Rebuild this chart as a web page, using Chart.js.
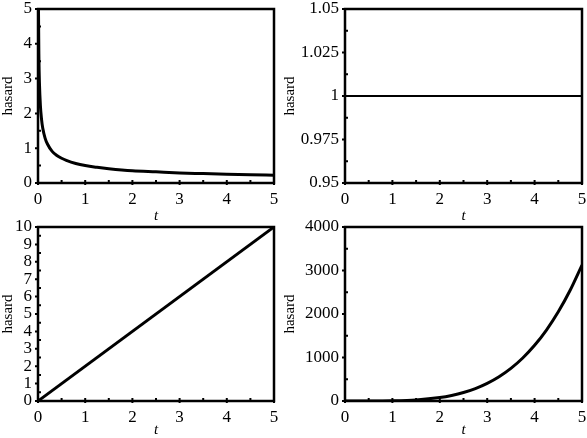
<!DOCTYPE html>
<html>
<head>
<meta charset="utf-8">
<script src="https://cdn.jsdelivr.net/npm/chart.js@4.4.0/dist/chart.umd.min.js"></script>
<style>
  body { margin: 0; background: #fff; }
  #wrap { position: relative; width: 587px; height: 438px; overflow: hidden; }
  canvas { position: absolute; }
</style>
</head>
<body>
<div id="wrap">
  <canvas id="c1" width="290" height="226" style="left:0px;top:0px"></canvas>
  <canvas id="c2" width="307" height="226" style="left:280px;top:0px"></canvas>
  <canvas id="c3" width="290" height="219" style="left:0px;top:219px"></canvas>
  <canvas id="c4" width="307" height="219" style="left:280px;top:219px"></canvas>
</div>
<script>
// hazard values
const tDec = [0.005, 0.01, 0.02, 0.03, 0.05, 0.075, 0.1, 0.15, 0.2, 0.3, 0.4, 0.5, 0.6, 0.8, 1, 1.25, 1.5, 2, 2.5, 3, 3.5, 4, 4.5, 5];
const hDec = [7.07, 5.0, 3.54, 2.89, 2.24, 1.83, 1.58, 1.29, 1.12, 0.91, 0.79, 0.71, 0.65, 0.56, 0.5, 0.45, 0.41, 0.35, 0.32, 0.29, 0.27, 0.25, 0.24, 0.22];

const tConst = [0, 5];
const hConst = [1, 1];

const tLin = [0, 5];
const hLin = [0, 10];

const tInc = [0, 0.5, 1, 1.5, 2, 2.25, 2.5, 2.75, 3, 3.25, 3.5, 3.75, 4, 4.25, 4.5, 4.75, 5];
const hInc = [0, 0.3, 5, 25, 80, 128, 195, 286, 405, 558, 750, 989, 1280, 1631, 2050, 2545, 3125];

// axis ranges (min, max, step)
const xRange = [0, 5, 1];
const yRangeDec = [0, 5, 1];
const yRangeConst = [0.95, 1.05, 0.025];
const yRangeLin = [0, 10, 1];
const yRangeInc = [0, 4000, 1000];

const serif = 'Liberation Serif, Times New Roman, serif';

//Junta os dois vetores em pontos {x, y}
function toPoints(xs, ys) {
    let pts = [];
    for (let i = 0; i < xs.length; i++) {
        pts.push({ x: xs[i], y: ys[i] });
    }
    return pts;
}

//Desenha a moldura e os tracinhos dos eixos
const framePlugin = {
    id: 'frame',
    afterDraw(chart) {
        const ctx = chart.ctx;
        const a = chart.chartArea;
        const xs = chart.scales.x;
        const ys = chart.scales.y;
        ctx.save();
        ctx.strokeStyle = '#000';
        ctx.lineWidth = 2.5;
        ctx.strokeRect(a.left, a.top, a.right - a.left, a.bottom - a.top);
        ctx.lineWidth = 2;
        ctx.beginPath();
        const xr = chart.options.xr, yr = chart.options.yr;
        for (let k = 0; k <= Math.round((xr[1] - xr[0]) / xr[2]) * 2; k++) {
            const px = xs.getPixelForValue(xr[0] + k * xr[2] / 2);
            ctx.moveTo(px, a.bottom + (k % 2 === 0 ? 2 : 1));
            ctx.lineTo(px, a.bottom - 3);
        }
        for (let k = 0; k <= Math.round((yr[1] - yr[0]) / yr[2]) * 2; k++) {
            const py = ys.getPixelForValue(yr[0] + k * yr[2] / 2);
            if (k % 2 === 0) {
                ctx.moveTo(a.left - 3, py);
                ctx.lineTo(a.left + 1, py);
            } else {
                ctx.moveTo(a.left - 1, py);
                ctx.lineTo(a.left + 3, py);
            }
        }
        ctx.stroke();
        ctx.restore();
    }
};

//Cria um painel
function createPanel(id, xs, ys, yr, box, width, curve) {
    const ctx = document.getElementById(id).getContext('2d');
    const canvasW = ctx.canvas.width;
    const canvasH = ctx.canvas.height;
    return new Chart(ctx, {
        type: 'line',
        data: {
            datasets: [{
                data: toPoints(xs, ys),
                borderColor: '#000',
                borderWidth: width,
                pointRadius: 0,
                fill: false,
                cubicInterpolationMode: curve ? 'monotone' : 'default'
            }]
        },
        options: {
            xr: xRange,
            yr: yr,
            responsive: false,
            animation: false,
            events: [],
            layout: { padding: { left: 0, top: box.top, right: canvasW - box.right, bottom: 0 } },
            plugins: { legend: { display: false }, tooltip: { enabled: false } },
            scales: {
                x: {
                    type: 'linear',
                    min: xRange[0],
                    max: xRange[1],
                    border: { display: false },
                    grid: { display: false, drawTicks: false },
                    ticks: {
                        stepSize: xRange[2],
                        padding: 6,
                        color: '#000',
                        autoSkip: false,
                        font: { family: serif, size: 17 },
                        maxRotation: 0
                    },
                    title: {
                        display: true,
                        text: 't',
                        color: '#000',
                        padding: { top: 0, bottom: box.tPad },
                        font: { family: serif, size: 15, style: 'italic', lineHeight: 1 }
                    },
                    afterFit: function (s) {
                        s.height = canvasH - box.bottom;
                        s.paddingLeft = 0;
                        s.paddingRight = 0;
                    }
                },
                y: {
                    type: 'linear',
                    min: yr[0],
                    max: yr[1],
                    border: { display: false },
                    grid: { display: false, drawTicks: false },
                    ticks: {
                        stepSize: yr[2],
                        padding: 6,
                        color: '#000',
                        autoSkip: false,
                        font: { family: serif, size: 17 },
                        callback: function (v) { return String(+v.toFixed(4)); }
                    },
                    title: {
                        display: true,
                        text: 'hasard',
                        color: '#000',
                        padding: { top: box.hPad, bottom: 0 },
                        font: { family: serif, size: 15, lineHeight: 1 }
                    },
                    afterFit: function (s) {
                        s.width = box.left;
                        s.paddingTop = 0;
                        s.paddingBottom = 0;
                    }
                }
            }
        },
        plugins: [framePlugin]
    });
}

createPanel('c1', tDec, hDec, yRangeDec, { left: 38, right: 274, top: 9, bottom: 183, tPad: 2, hPad: 1 }, 3, true);
createPanel('c2', tConst, hConst, yRangeConst, { left: 65, right: 302, top: 9, bottom: 183, tPad: 2, hPad: 2.5 }, 2, false);
createPanel('c3', tLin, hLin, yRangeLin, { left: 38, right: 274, top: 8, bottom: 182, tPad: 0, hPad: 1 }, 3, false);
createPanel('c4', tInc, hInc, yRangeInc, { left: 65, right: 302, top: 8, bottom: 182, tPad: 0, hPad: 2.5 }, 3, true);
</script>
</body>
</html>
